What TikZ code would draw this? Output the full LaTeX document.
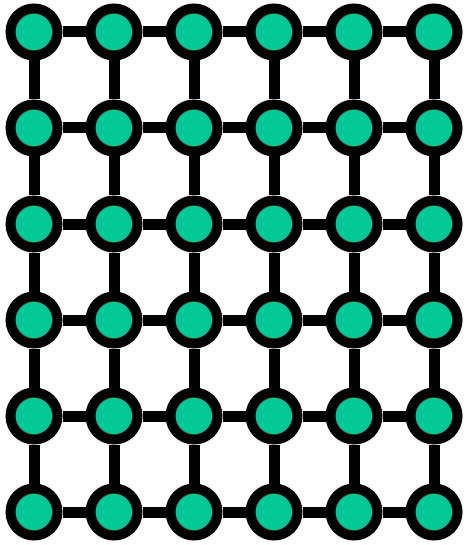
\documentclass[tikz,border=0pt]{standalone}
\usepackage{tikz}
\definecolor{vert}{RGB}{0,201,151}
\begin{document}
\begin{tikzpicture}[x=1pt,y=-1pt]
		% Styles
		\tikzstyle{arete}=[-,line width=11pt]
		\tikzstyle{sommet}=[circle,draw=black,line width=10pt,fill=vert,minimum size=47pt,inner sep=0pt]
		% Dimensions
		\def\DistanceInterColonnes{80}
		\def\DistanceInterLignes{96}
		\def\MargeGauche{34}
		\def\MargeHaut{32}
		\useasboundingbox (0,0) rectangle (463,545);
		% Positions calculees
		\def\ColA{\MargeGauche+(0)*\DistanceInterColonnes}
		\def\ColB{\MargeGauche+(1)*\DistanceInterColonnes}
		\def\ColC{\MargeGauche+(2)*\DistanceInterColonnes}
		\def\ColD{\MargeGauche+(3)*\DistanceInterColonnes}
		\def\ColE{\MargeGauche+(4)*\DistanceInterColonnes}
		\def\ColF{\MargeGauche+(5)*\DistanceInterColonnes}
		\def\LigneA{\MargeHaut+(0)*\DistanceInterLignes}
		\def\LigneB{\MargeHaut+(1)*\DistanceInterLignes}
		\def\LigneC{\MargeHaut+(2)*\DistanceInterLignes}
		\def\LigneD{\MargeHaut+(3)*\DistanceInterLignes}
		\def\LigneE{\MargeHaut+(4)*\DistanceInterLignes}
		\def\LigneF{\MargeHaut+(5)*\DistanceInterLignes}
		% Sommets
		\node[sommet] (S11) at ({\ColA},{\LigneA}) {};
		\node[sommet] (S12) at ({\ColB},{\LigneA}) {};
		\node[sommet] (S13) at ({\ColC},{\LigneA}) {};
		\node[sommet] (S14) at ({\ColD},{\LigneA}) {};
		\node[sommet] (S15) at ({\ColE},{\LigneA}) {};
		\node[sommet] (S16) at ({\ColF},{\LigneA}) {};
		%
		\node[sommet] (S21) at ({\ColA},{\LigneB}) {};
		\node[sommet] (S22) at ({\ColB},{\LigneB}) {};
		\node[sommet] (S23) at ({\ColC},{\LigneB}) {};
		\node[sommet] (S24) at ({\ColD},{\LigneB}) {};
		\node[sommet] (S25) at ({\ColE},{\LigneB}) {};
		\node[sommet] (S26) at ({\ColF},{\LigneB}) {};
		%
		\node[sommet] (S31) at ({\ColA},{\LigneC}) {};
		\node[sommet] (S32) at ({\ColB},{\LigneC}) {};
		\node[sommet] (S33) at ({\ColC},{\LigneC}) {};
		\node[sommet] (S34) at ({\ColD},{\LigneC}) {};
		\node[sommet] (S35) at ({\ColE},{\LigneC}) {};
		\node[sommet] (S36) at ({\ColF},{\LigneC}) {};
		%
		\node[sommet] (S41) at ({\ColA},{\LigneD}) {};
		\node[sommet] (S42) at ({\ColB},{\LigneD}) {};
		\node[sommet] (S43) at ({\ColC},{\LigneD}) {};
		\node[sommet] (S44) at ({\ColD},{\LigneD}) {};
		\node[sommet] (S45) at ({\ColE},{\LigneD}) {};
		\node[sommet] (S46) at ({\ColF},{\LigneD}) {};
		%
		\node[sommet] (S51) at ({\ColA},{\LigneE}) {};
		\node[sommet] (S52) at ({\ColB},{\LigneE}) {};
		\node[sommet] (S53) at ({\ColC},{\LigneE}) {};
		\node[sommet] (S54) at ({\ColD},{\LigneE}) {};
		\node[sommet] (S55) at ({\ColE},{\LigneE}) {};
		\node[sommet] (S56) at ({\ColF},{\LigneE}) {};
		%
		\node[sommet] (S61) at ({\ColA},{\LigneF}) {};
		\node[sommet] (S62) at ({\ColB},{\LigneF}) {};
		\node[sommet] (S63) at ({\ColC},{\LigneF}) {};
		\node[sommet] (S64) at ({\ColD},{\LigneF}) {};
		\node[sommet] (S65) at ({\ColE},{\LigneF}) {};
		\node[sommet] (S66) at ({\ColF},{\LigneF}) {};
		
		% Aretes horizontales
		\draw[arete] (S11)--(S12)--(S13)--(S14)--(S15)--(S16);
		\draw[arete] (S21)--(S22)--(S23)--(S24)--(S25)--(S26);
		\draw[arete] (S31)--(S32)--(S33)--(S34)--(S35)--(S36);
		\draw[arete] (S41)--(S42)--(S43)--(S44)--(S45)--(S46);
		\draw[arete] (S51)--(S52)--(S53)--(S54)--(S55)--(S56);
		\draw[arete] (S61)--(S62)--(S63)--(S64)--(S65)--(S66);
		% Aretes verticales
		\draw[arete] (S11)--(S21)--(S31)--(S41)--(S51)--(S61);
		\draw[arete] (S12)--(S22)--(S32)--(S42)--(S52)--(S62);
		\draw[arete] (S13)--(S23)--(S33)--(S43)--(S53)--(S63);
		\draw[arete] (S14)--(S24)--(S34)--(S44)--(S54)--(S64);
		\draw[arete] (S15)--(S25)--(S35)--(S45)--(S55)--(S65);
		\draw[arete] (S16)--(S26)--(S36)--(S46)--(S56)--(S66);
	\end{tikzpicture}
\end{document}
